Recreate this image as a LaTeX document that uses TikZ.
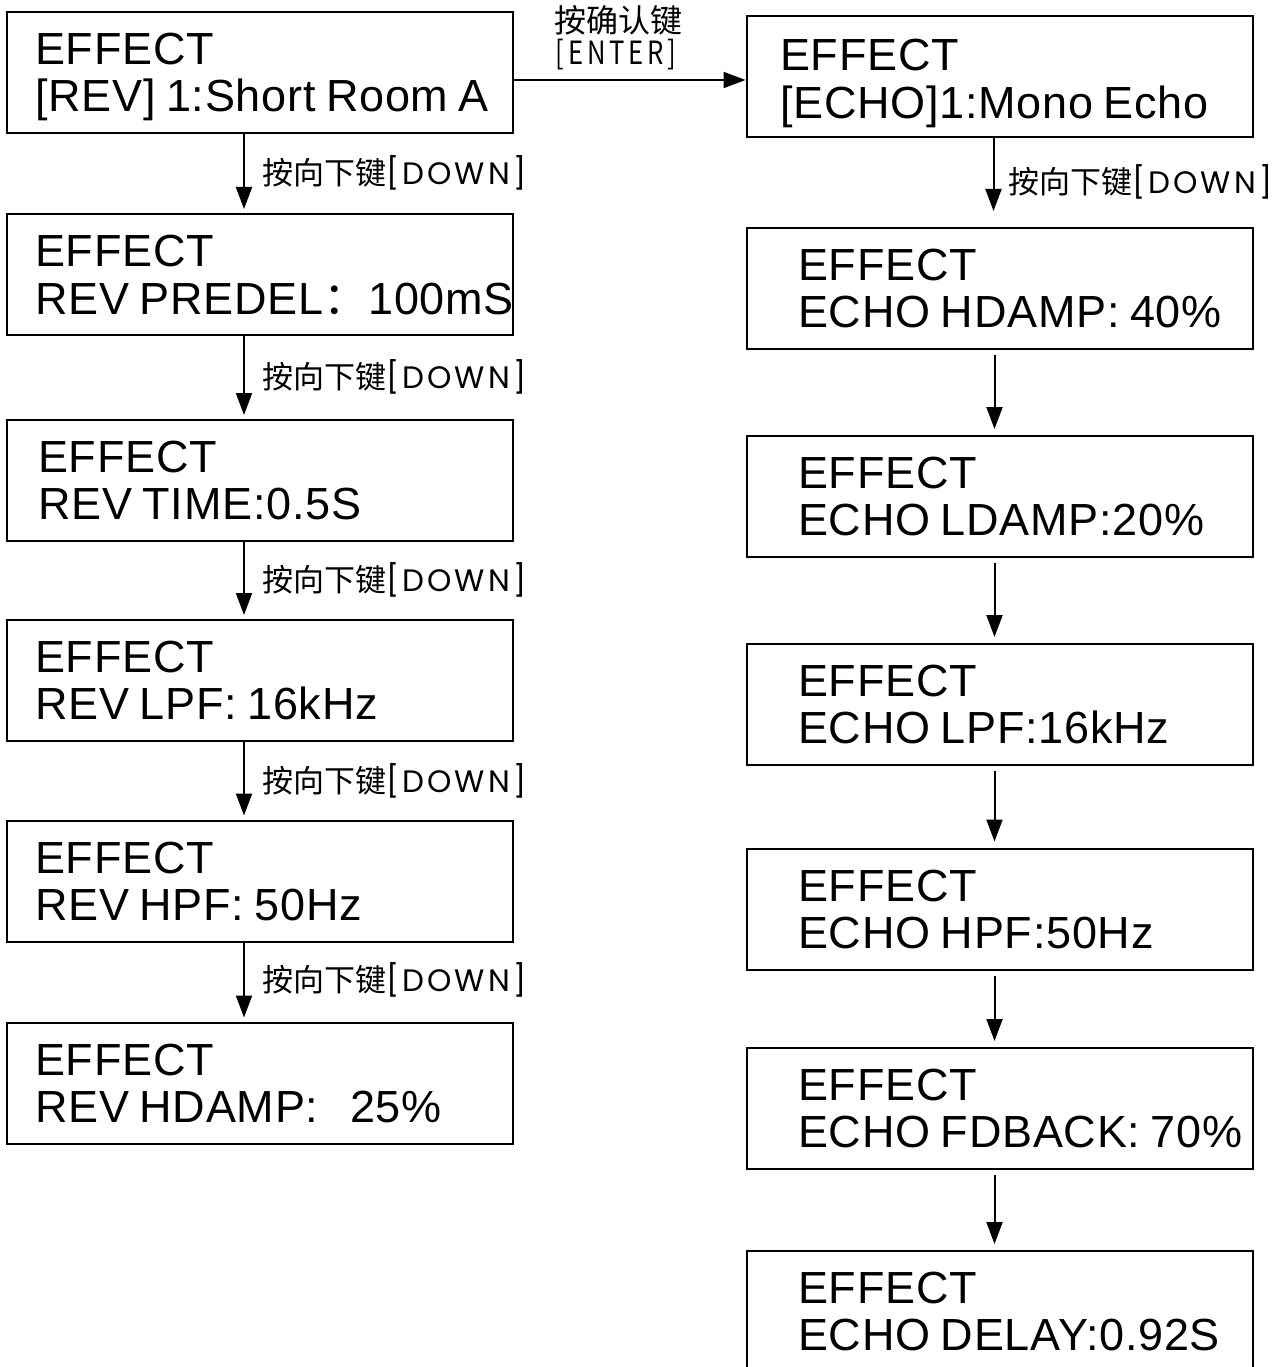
\documentclass[tikz,border=0pt]{standalone}
\usepackage{fontspec}
\setmainfont[LetterSpace=1.6,WordSpace=0.8]{Liberation Sans}
\newfontfamily\cjk{Noto Sans CJK SC}
\newfontfamily\geo[LetterSpace=10]{Poppins}
\newfontfamily\entfont[FakeStretch=0.8,LetterSpace=12]{Noto Sans CJK SC}
\usetikzlibrary{arrows.meta}
\begin{document}
\begin{tikzpicture}[x=1pt,y=-1pt,
  box/.style={draw, line width=2pt, minimum width=506pt, minimum height=121pt, inner sep=0pt},
  txt/.style={anchor=base west, inner sep=0pt, font=\fontsize{45}{54}\selectfont},
  lbl/.style={anchor=west, inner sep=0pt, font=\fontsize{31}{36}\selectfont},
  arr/.style={line width=2pt, -{Triangle[width=16pt,length=22pt]}},
]
\useasboundingbox (0,0) rectangle (1287,1367);
% left column
\node[box] (L1) at (260,73) {};
\node[box] (L2) at (260,274.5) {};
\node[box] (L3) at (260,480.5) {};
\node[box] (L4) at (260,680.5) {};
\node[box] (L5) at (260,881) {};
\node[box] (L6) at (260,1083) {};
% right column
\node[box] (R1) at (999.5,76.5) {};
\node[box] (R2) at (999.5,288.5) {};
\node[box] (R3) at (999.5,496.5) {};
\node[box] (R4) at (999.5,704.5) {};
\node[box] (R5) at (999.5,909) {};
\node[box] (R6) at (999.5,1108.5) {};
\node[box] (R7) at (999.5,1311.5) {};
% left texts
\node[txt] (L1a) at (35,65) {EFFECT};
\node[txt] (L1b) at (35,112) {[REV] 1:Short Room A};
\node[txt] (L2a) at (35,266) {EFFECT};
\node[txt] (L2b) at (35,314) {REV PREDEL{\cjk ：}100mS};
\node[txt] (L3a) at (38,472) {EFFECT};
\node[txt] (L3b) at (38,519) {REV TIME:0.5S};
\node[txt] (L4a) at (35,672) {EFFECT};
\node[txt] (L4b) at (35,719) {REV LPF: 16kHz};
\node[txt] (L5a) at (35,873) {EFFECT};
\node[txt] (L5b) at (35,920) {REV HPF: 50Hz};
\node[txt] (L6a) at (35,1075) {EFFECT};
\node[txt] (L6b) at (35,1122) {REV HDAMP:\ \ \ 25\%};
% right texts
\node[txt] (R1a) at (780,71) {EFFECT};
\node[txt] (R1b) at (780,119) {[ECHO]1:Mono Echo};
\node[txt] (R2a) at (798,280) {EFFECT};
\node[txt] (R2b) at (798,327) {ECHO HDAMP: 40\%};
\node[txt] (R3a) at (798,488) {EFFECT};
\node[txt] (R3b) at (798,535) {ECHO LDAMP:20\%};
\node[txt] (R4a) at (798,696) {EFFECT};
\node[txt] (R4b) at (798,743) {ECHO LPF:16kHz};
\node[txt] (R5a) at (798,901) {EFFECT};
\node[txt] (R5b) at (798,948) {ECHO HPF:50Hz};
\node[txt] (R6a) at (798,1100) {EFFECT};
\node[txt] (R6b) at (798,1147) {ECHO FDBACK: 70\%};
\node[txt] (R7a) at (798,1303) {EFFECT};
\node[txt] (R7b) at (798,1350) {ECHO DELAY:0.92S};
% left arrows
\draw[arr, shorten >=4pt] ([xshift=-16pt]L1.south) -- ([xshift=-16pt]L2.north);
\draw[arr, shorten >=4pt] ([xshift=-16pt]L2.south) -- ([xshift=-16pt]L3.north);
\draw[arr, shorten >=4pt] ([xshift=-16pt]L3.south) -- ([xshift=-16pt]L4.north);
\draw[arr, shorten >=4pt] ([xshift=-16pt]L4.south) -- ([xshift=-16pt]L5.north);
\draw[arr, shorten >=4pt] ([xshift=-16pt]L5.south) -- ([xshift=-16pt]L6.north);
% left labels
\node[lbl] (D1) at (262,173) {{\cjk 按向下键}{\geo [DOWN]}};
\node[lbl] (D2) at (262,377) {{\cjk 按向下键}{\geo [DOWN]}};
\node[lbl] (D3) at (262,580) {{\cjk 按向下键}{\geo [DOWN]}};
\node[lbl] (D4) at (262,781) {{\cjk 按向下键}{\geo [DOWN]}};
\node[lbl] (D5) at (262,980) {{\cjk 按向下键}{\geo [DOWN]}};
% right arrows
\draw[arr, shorten >=16pt] ([xshift=-6pt]R1.south) -- ([xshift=-6pt]R2.north);
\node[lbl] (D6) at (1008,182) {{\cjk 按向下键}{\geo [DOWN]}};
\draw[arr, shorten <=5pt, shorten >=6pt] ([xshift=-5pt]R2.south) -- ([xshift=-5pt]R3.north);
\draw[arr, shorten <=5pt, shorten >=6pt] ([xshift=-5pt]R3.south) -- ([xshift=-5pt]R4.north);
\draw[arr, shorten <=5pt, shorten >=6pt] ([xshift=-5pt]R4.south) -- ([xshift=-5pt]R5.north);
\draw[arr, shorten <=5pt, shorten >=6pt] ([xshift=-5pt]R5.south) -- ([xshift=-5pt]R6.north);
\draw[arr, shorten <=5pt, shorten >=6pt] ([xshift=-5pt]R6.south) -- ([xshift=-5pt]R7.north);
% enter arrow
\draw[arr] ([yshift=-7pt]L1.east) -- ([yshift=-7pt]L1.east -| R1.west);
\node[inner sep=0pt, font=\fontsize{32}{36}\selectfont\cjk] (E1) at (618,20) {按确认键};
\node[inner sep=0pt, font=\fontsize{32}{36}\selectfont\entfont] (E2) at (616,55) {[ENTER]};
\end{tikzpicture}
\end{document}
